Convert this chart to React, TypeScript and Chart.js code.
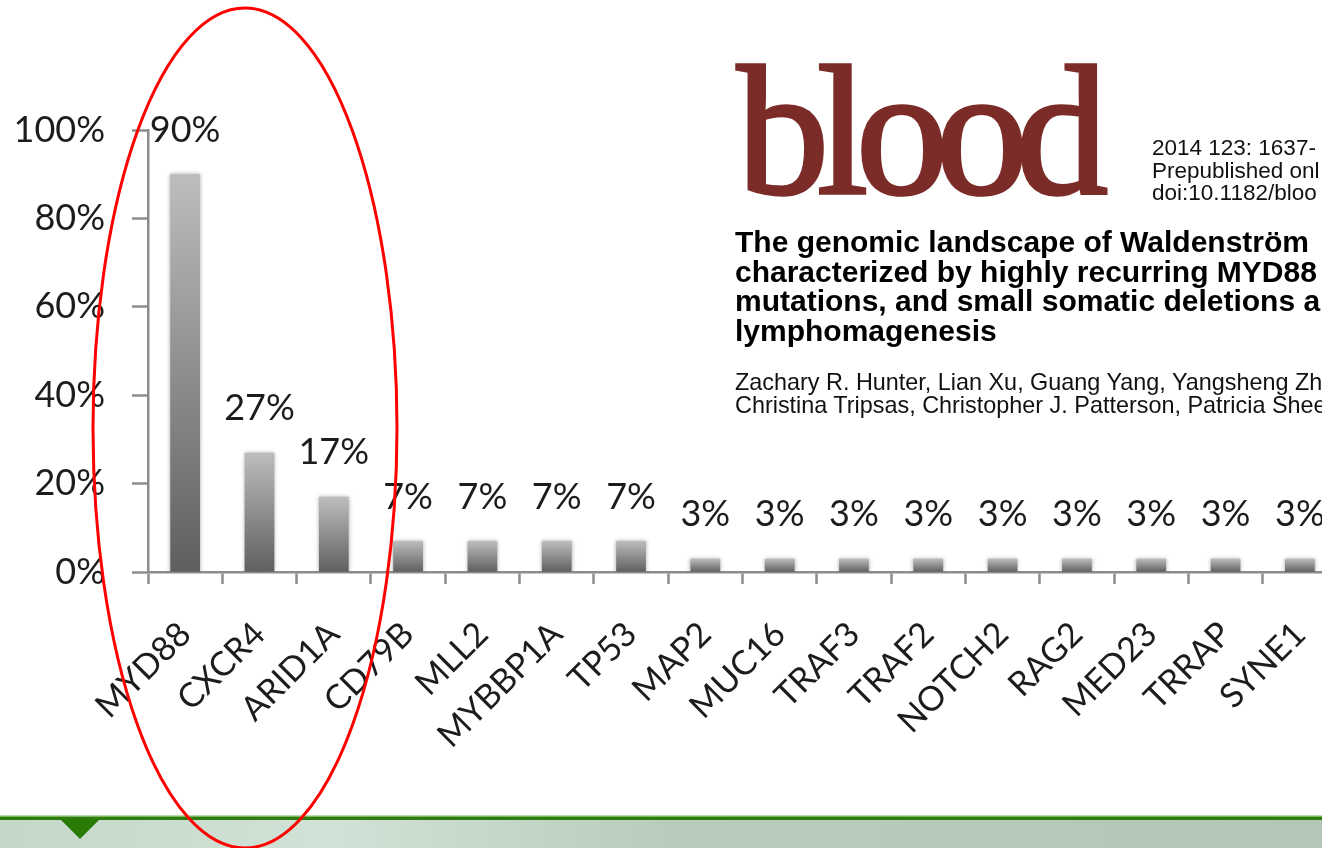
import React, { useEffect, useRef } from "react";
import { Chart, registerables } from "chart.js";

Chart.register(...registerables);

const genes = [
  "MYD88", "CXCR4", "ARID1A", "CD79B", "MLL2", "MYBBP1A", "TP53", "MAP2",
  "MUC16", "TRAF3", "TRAF2", "NOTCH2", "RAG2", "MED23", "TRRAP", "SYNE1",
];
const frequencies = [90, 27, 17, 7, 7, 7, 7, 3, 3, 3, 3, 3, 3, 3, 3, 3];
const yTickStep = 20;
const yMax = 100;

const citationLines = ["2014 123: 1637-", "Prepublished onl", "doi:10.1182/bloo"];
const titleLines = [
  "The genomic landscape of Waldenström",
  "characterized by highly recurring MYD88",
  "mutations, and small somatic deletions a",
  "lymphomagenesis",
];
const authorLines = [
  "Zachary R. Hunter, Lian Xu, Guang Yang, Yangsheng Zh",
  "Christina Tripsas, Christopher J. Patterson, Patricia Shee",
];

const AXIS = "#8c8c8c";
const TEXT = "#1c1c1c";
const CANVAS_W = 1359;

const barDecor = {
  id: "barDecor",
  beforeDatasetsDraw(chart: any) {
    const ctx = chart.ctx;
    ctx.save();
    ctx.shadowColor = "rgba(0,0,0,0.35)";
    ctx.shadowBlur = 4;
  },
  afterDatasetsDraw(chart: any) {
    const ctx = chart.ctx;
    ctx.restore();
    const meta = chart.getDatasetMeta(0);
    ctx.save();
    ctx.font = "36px Lato";
    ctx.fillStyle = TEXT;
    ctx.textAlign = "center";
    ctx.textBaseline = "middle";
    meta.data.forEach((bar: any, i: number) => {
      const v = chart.data.datasets[0].data[i];
      ctx.fillText(v + "%", bar.x, bar.y - 44);
    });
    ctx.restore();
  },
};

export default function App() {
  const canvasRef = useRef<HTMLCanvasElement | null>(null);

  useEffect(() => {
    const canvas = canvasRef.current;
    if (!canvas) return;
    const chart = new Chart(canvas, {
      type: "bar",
      data: {
        labels: genes,
        datasets: [
          {
            data: frequencies,
            backgroundColor: (c: any) => {
              const ch = c.chart;
              if (!ch.chartArea || !ch.scales.y) return "#888888";
              const y = ch.scales.y;
              const top = y.getPixelForValue(c.raw ?? 0);
              const bottom = y.getPixelForValue(0);
              const g = ch.ctx.createLinearGradient(0, top, 0, bottom);
              g.addColorStop(0, "#bdbdbd");
              g.addColorStop(1, "#5f5f5f");
              return g;
            },
            borderWidth: 0,
            barPercentage: 0.4,
            categoryPercentage: 1,
          },
        ],
      },
      options: {
        responsive: false,
        animation: false,
        layout: { padding: { top: 130, left: 0, right: 9, bottom: 0 } },
        plugins: {
          legend: { display: false },
          tooltip: { enabled: false },
          title: { display: false },
        },
        scales: {
          x: {
            type: "category",
            offset: true,
            afterFit: (s: any) => {
              s.height = 228;
            },
            grid: {
              display: true,
              drawOnChartArea: false,
              drawTicks: true,
              tickLength: 12,
              tickWidth: 2.5,
              tickColor: AXIS,
              offset: true,
            },
            border: { display: true, color: AXIS, width: 2.5 },
            ticks: {
              autoSkip: false,
              maxRotation: 45,
              minRotation: 45,
              padding: 30,
              color: TEXT,
              font: { family: "Lato", size: 34 },
            },
          },
          y: {
            min: 0,
            max: yMax,
            afterFit: (s: any) => {
              s.width = 148;
            },
            grid: {
              display: true,
              drawOnChartArea: false,
              drawTicks: true,
              tickLength: 16,
              tickWidth: 2.5,
              tickColor: AXIS,
            },
            border: { display: true, color: AXIS, width: 2.5 },
            ticks: {
              stepSize: yTickStep,
              padding: 27,
              color: TEXT,
              font: { family: "Lato", size: 36 },
              callback: (v: any) => v + "%",
            },
          },
        },
      },
      plugins: [barDecor],
    } as any);
    return () => chart.destroy();
  }, []);

  return (
    <div
      style={{
        position: "absolute",
        left: 0,
        top: 0,
        width: 1322,
        height: 848,
        overflow: "hidden",
        background: "#ffffff",
      }}
    >
      <canvas
        ref={canvasRef}
        width={CANVAS_W}
        height={800}
        style={{ position: "absolute", left: 0, top: 0, width: CANVAS_W, height: 800 }}
      />
      <svg
        width={1322}
        height={848}
        style={{ position: "absolute", left: 0, top: 0 }}
      >
        <defs>
          <linearGradient id="barBg" x1="0" y1="0" x2="1" y2="0">
            <stop offset="0" stopColor="#c4d8ca" />
            <stop offset="0.25" stopColor="#d0e3d6" />
            <stop offset="0.5" stopColor="#b9cdbf" />
            <stop offset="1" stopColor="#b3c7b9" />
          </linearGradient>
        </defs>
        <text
          x={737}
          y={193}
          fontFamily="Liberation Serif"
          fontSize={184}
          fill="#7b2b28"
          stroke="#7b2b28"
          strokeWidth={3.5}
          textLength={371}
          lengthAdjust="spacing"
        >
          blood
        </text>
        {citationLines.map((t, i) => (
          <text
            key={"c" + i}
            x={1152}
            y={155 + i * 22.5}
            fontFamily="Liberation Sans"
            fontSize={22.5}
            fill="#111"
          >
            {t}
          </text>
        ))}
        {titleLines.map((t, i) => (
          <text
            key={"t" + i}
            x={735}
            y={252 + i * 29.5}
            fontFamily="Liberation Sans"
            fontWeight="bold"
            fontSize={30}
            fill="#000"
          >
            {t}
          </text>
        ))}
        {authorLines.map((t, i) => (
          <text
            key={"a" + i}
            x={735}
            y={390 + i * 22.5}
            fontFamily="Liberation Sans"
            fontSize={23.4}
            fill="#111"
          >
            {t}
          </text>
        ))}
        <rect x={0} y={819} width={1322} height={29} fill="url(#barBg)" />
        <rect x={0} y={815.5} width={1322} height={1.5} fill="#7db65c" />
        <rect x={0} y={817} width={1322} height={3} fill="#2e7d0c" />
        <polygon points="60,819 100,819 80,839" fill="#2b7a06" />
        <ellipse
          cx={245}
          cy={428}
          rx={152}
          ry={420}
          fill="none"
          stroke="#ff0000"
          strokeWidth={3}
        />
      </svg>
    </div>
  );
}
